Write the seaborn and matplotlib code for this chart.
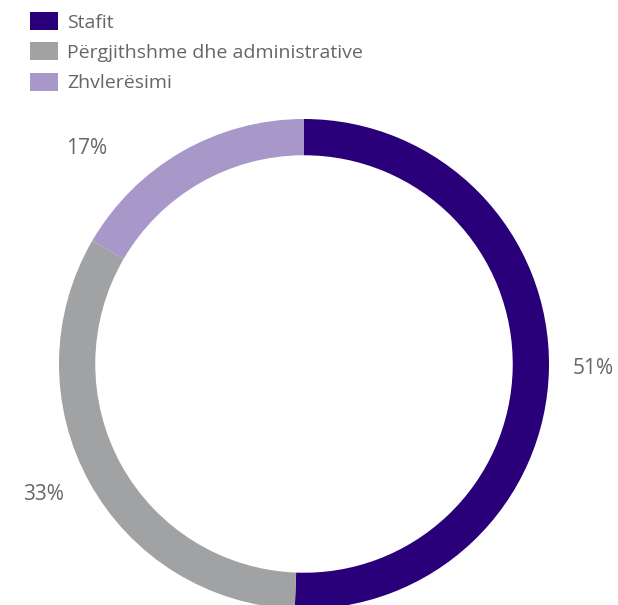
import matplotlib
matplotlib.use("Agg")
import matplotlib.pyplot as plt
import seaborn as sns
from matplotlib.patches import Patch

categories = ["Stafit", "Përgjithshme dhe administrative", "Zhvlerësimi"]
values = [50.6, 32.8, 16.6]
colors = ["#29007a", "#a1a2a4", "#a898ca"]

sns.set_theme(style="white")
plt.rcParams['font.family'] = ['Open Sans', 'DejaVu Sans']

W, H = 618, 605
fig = plt.figure(figsize=(W / 100, H / 100), dpi=100)
ax = fig.add_axes([0, 0, 1, 1])
cx, cy, R = 304, 364, 245

wedges, _ = ax.pie(values, colors=colors, startangle=90, counterclock=False,
                   radius=1.0, wedgeprops=dict(width=0.148, linewidth=0))
ax.set_xlim(-cx / R, (W - cx) / R)
ax.set_ylim(-(H - cy) / R, cy / R)
ax.set_aspect("equal")
ax.axis("off")

# percentage labels (positions as in reference)
label_pos = [(593, 369), (44, 494), (87, 149)]
for v, (px, py) in zip(values, label_pos):
    ax.text((px - cx) / R, (cy - py) / R, f"{round(v)}%", ha="center", va="center",
            fontsize=15, color="#666666")

handles = [Patch(facecolor=c, edgecolor="none") for c in colors]
fig.legend(handles, categories, loc="upper left", bbox_to_anchor=(26 / W, 1 - 8 / H),
           frameon=False, fontsize=14, labelcolor="#666666", handlelength=1.45,
           handleheight=1.05, handletextpad=0.45, labelspacing=0.55, borderaxespad=0,
           borderpad=0.2)

fig.savefig("out.png", dpi=100)
